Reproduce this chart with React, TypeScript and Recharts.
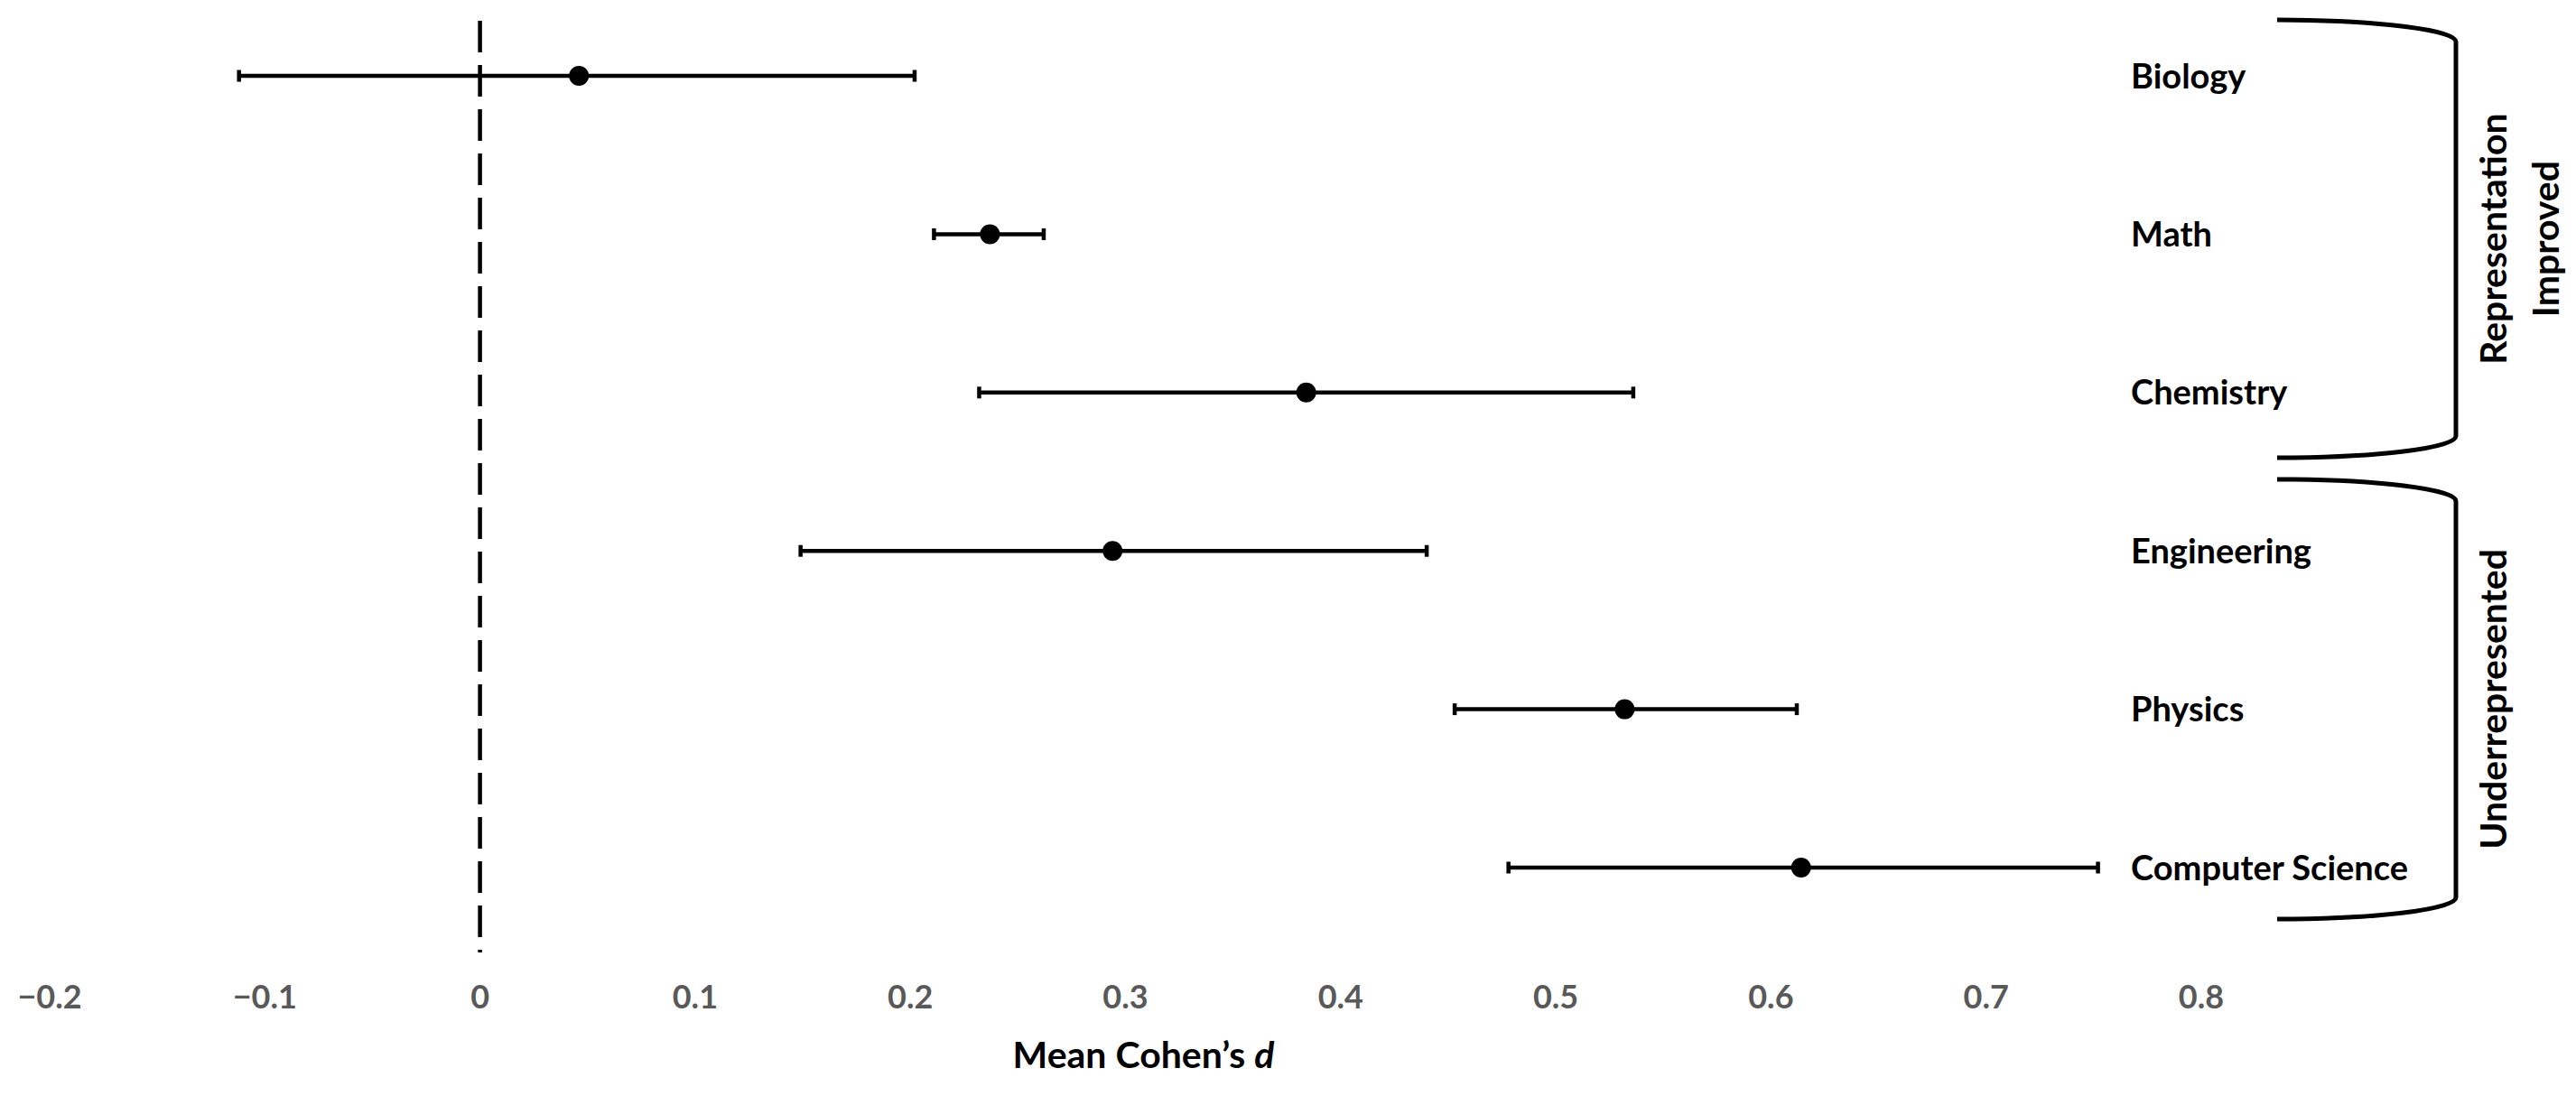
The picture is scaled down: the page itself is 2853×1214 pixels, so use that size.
import React from 'react';
import {
  ScatterChart, Scatter, XAxis, YAxis, ErrorBar, ReferenceLine, ReferenceArea, Label,
} from 'recharts';

// Mean Cohen's d with confidence interval per field
const fields = ['Biology', 'Math', 'Chemistry', 'Engineering', 'Physics', 'Computer Science'];
const meanD = [0.046, 0.237, 0.384, 0.294, 0.532, 0.614];
const lowCI = [-0.112, 0.211, 0.232, 0.149, 0.453, 0.478];
const highCI = [0.202, 0.262, 0.536, 0.440, 0.612, 0.752];

const xTicks = [-0.2, -0.1, 0, 0.1, 0.2, 0.3, 0.4, 0.5, 0.6, 0.7, 0.8];
const xTickLabels = ['−0.2', '−0.1', '0', '0.1', '0.2', '0.3', '0.4', '0.5', '0.6', '0.7', '0.8'];

// bracket groups on the right (in row units)
const groupLines = [['Representation', 'Improved'], ['Underrepresented']];
const groupTop = [6.353, 3.452];
const groupBottom = [3.588, 0.675];

const FONT = 'Lato, "Open Sans", sans-serif';
const Y_DOMAIN: [number, number] = [0.464, 6.348];

const rowPos = fields.map((_, i) => fields.length - i);

const chartData = fields.map((f, i) => ({
  field: f,
  x: meanD[i],
  y: rowPos[i],
  err: [meanD[i] - lowCI[i], highCI[i] - meanD[i]],
}));

function FieldTick({ x, y, payload }: any) {
  const i = rowPos.indexOf(payload.value);
  if (i < 0) return null;
  return (
    <text x={x - 78} y={y} dy="0.36em" textAnchor="start" fontFamily={FONT}
      fontWeight={700} fontSize={38} fill="#000">
      {fields[i]}
    </text>
  );
}

function TitleLabel({ viewBox }: any) {
  const { x, y, width } = viewBox;
  return (
    <text x={x + width / 2 + 20} y={y + 128} textAnchor="middle" fontFamily={FONT}
      fontWeight={700} fontSize={41} fill="#000">
      Mean Cohen’s <tspan fontStyle="italic">d</tspan>
    </text>
  );
}

function makeBracket(idx: number) {
  return (props: any) => {
    const { x, y, width, height } = props;
    const right = x + width;
    const x0 = right + 84;
    const x1 = right + 282;
    const r = 24;
    const top = y;
    const bot = y + height;
    const rx = x1 - x0;
    const d = `M${x0},${top} A${rx},${r} 0 0 1 ${x1},${top + r} L${x1},${bot - r} A${rx},${r} 0 0 1 ${x0},${bot}`;
    const cy = (top + bot) / 2;
    const lines = groupLines[idx];
    return (
      <g>
        <path d={d} fill="none" stroke="#000" strokeWidth={5} />
        {lines.map((t, k) => (
          <text key={t} transform={`translate(${right + 338 + k * 58},${cy}) rotate(-90)`}
            textAnchor="middle" fontFamily={FONT} fontWeight={700} fontSize={41} fill="#000">
            {t}
          </text>
        ))}
      </g>
    );
  };
}

export default function App() {
  return (
    <div style={{ width: 2853, height: 1214, background: '#fff' }}>
      <style>{'body{margin:0;background:#fff}'}</style>
      <ScatterChart width={2853} height={1214} margin={{ top: 23, right: 0, bottom: 0, left: 55 }}>
        <XAxis
          type="number"
          dataKey="x"
          domain={[-0.2, 0.8]}
          ticks={xTicks}
          tickFormatter={(v: number) => xTickLabels[xTicks.indexOf(v)] ?? String(v)}
          axisLine={false}
          tickLine={false}
          tickSize={0}
          tickMargin={36}
          height={159}
          interval={0}
          tick={{ fill: '#595959', fontSize: 36, fontWeight: 700, fontFamily: FONT }}
        >
          <Label content={TitleLabel} />
        </XAxis>
        <YAxis
          type="number"
          dataKey="y"
          orientation="right"
          domain={Y_DOMAIN}
          ticks={rowPos}
          interval={0}
          width={415}
          axisLine={false}
          tickLine={false}
          tickSize={0}
          tickMargin={0}
          tick={<FieldTick />}
        />
        {groupLines.map((_, i) => (
          <ReferenceArea
            key={i}
            y1={groupBottom[i]}
            y2={groupTop[i]}
            ifOverflow="visible"
            fill="none"
            shape={makeBracket(i)}
          />
        ))}
        <ReferenceLine
          segment={[{ x: 0, y: Y_DOMAIN[1] }, { x: 0, y: Y_DOMAIN[0] }]}
          stroke="#000"
          strokeWidth={4.5}
          strokeDasharray="35 14"
          ifOverflow="visible"
        />
        <Scatter
          data={chartData}
          isAnimationActive={false}
          fill="#000"
          shape={(p: any) => <circle cx={p.cx} cy={p.cy} r={11} fill="#000" />}
        >
          <ErrorBar dataKey="err" direction="x" width={6.5} strokeWidth={4.5} stroke="#000" />
        </Scatter>
      </ScatterChart>
    </div>
  );
}
